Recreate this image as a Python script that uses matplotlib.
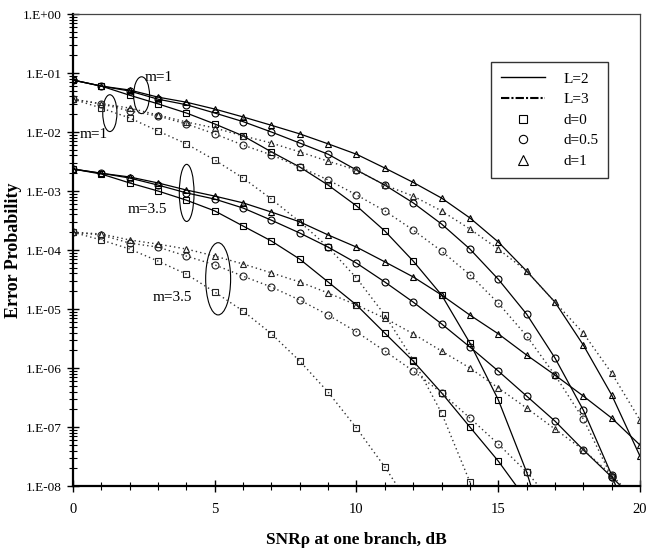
import matplotlib
matplotlib.use("Agg")
import matplotlib.pyplot as plt
import numpy as np
from matplotlib.lines import Line2D
from matplotlib.patches import Ellipse
from matplotlib.ticker import FixedLocator, FuncFormatter, LogLocator, NullFormatter

# m=1, L=2 (solid)
m1_L2_d1 = [7.6e-2, 6.0e-2, 5.15e-2, 3.9e-2, 3.2e-2, 2.45e-2, 1.8e-2, 1.3e-2, 9.3e-3, 6.3e-3, 4.2e-3,
            2.45e-3, 1.4e-3, 7.6e-4, 3.5e-4, 1.37e-4, 4.4e-5, 1.31e-5, 2.45e-6, 3.5e-7, 3.2e-8]
m1_L2_d05 = [7.6e-2, 6.0e-2, 4.95e-2, 3.6e-2, 2.9e-2, 2.1e-2, 1.5e-2, 1.0e-2, 6.5e-3, 4.2e-3, 2.27e-3,
             1.26e-3, 6.3e-4, 2.76e-4, 1.04e-4, 3.2e-5, 8.2e-6, 1.48e-6, 1.94e-7, 1.54e-8, 8.0e-10]
m1_L2_d0 = [7.6e-2, 6.0e-2, 4.2e-2, 3.0e-2, 2.1e-2, 1.37e-2, 8.6e-3, 4.6e-3, 2.55e-3, 1.26e-3, 5.6e-4,
            2.1e-4, 6.5e-5, 1.73e-5, 2.65e-6, 2.9e-7, 1.73e-8, 5.0e-10]
# m=1, L=3 (dotted)
m1_L3_d1 = [3.6e-2, 3.0e-2, 2.55e-2, 1.94e-2, 1.48e-2, 1.17e-2, 8.6e-3, 6.5e-3, 4.6e-3, 3.2e-3, 2.27e-3,
            1.26e-3, 8.2e-4, 4.6e-4, 2.27e-4, 1.04e-4, 4.4e-5, 1.31e-5, 3.9e-6, 8.2e-7, 1.31e-7]
m1_L3_d05 = [3.6e-2, 3.0e-2, 2.27e-2, 1.87e-2, 1.37e-2, 9.3e-3, 6.0e-3, 4.1e-3, 2.55e-3, 1.54e-3, 8.6e-4,
             4.6e-4, 2.18e-4, 9.6e-5, 3.8e-5, 1.26e-5, 3.5e-6, 7.6e-7, 1.37e-7, 1.42e-8, 1.0e-9]
m1_L3_d0 = [3.6e-2, 2.55e-2, 1.73e-2, 1.04e-2, 6.3e-3, 3.35e-3, 1.66e-3, 7.3e-4, 3.0e-4, 1.12e-4, 3.35e-5,
            7.9e-6, 1.37e-6, 1.73e-7, 1.17e-8, 4.0e-10]
# m=3.5, L=2 (solid)
m35_L2_d1 = [2.36e-3, 2.0e-3, 1.73e-3, 1.37e-3, 1.04e-3, 8.2e-4, 6.3e-4, 4.4e-4, 3.0e-4, 1.8e-4, 1.12e-4,
             6.3e-5, 3.5e-5, 1.73e-5, 7.9e-6, 3.8e-6, 1.66e-6, 7.6e-7, 3.35e-7, 1.42e-7, 4.95e-8]
m35_L2_d05 = [2.36e-3, 2.0e-3, 1.66e-3, 1.26e-3, 9.3e-4, 7.3e-4, 5.15e-4, 3.2e-4, 1.94e-4, 1.12e-4, 6.0e-5,
              2.87e-5, 1.31e-5, 5.6e-6, 2.27e-6, 8.9e-7, 3.35e-7, 1.26e-7, 4.1e-8, 1.42e-8, 4.8e-9]
m35_L2_d0 = [2.36e-3, 1.94e-3, 1.37e-3, 1.0e-3, 7.0e-4, 4.6e-4, 2.55e-4, 1.42e-4, 7.0e-5, 2.87e-5, 1.17e-5,
             3.9e-6, 1.31e-6, 3.8e-7, 1.0e-7, 2.65e-8, 5.8e-9]
# m=3.5, L=3 (dotted)
m35_L3_d1 = [2.0e-4, 1.87e-4, 1.48e-4, 1.26e-4, 1.04e-4, 7.9e-5, 5.8e-5, 4.1e-5, 2.87e-5, 1.87e-5, 1.17e-5,
             7.0e-6, 3.8e-6, 1.94e-6, 1.0e-6, 4.6e-7, 2.1e-7, 9.25e-8, 4.1e-8, 1.54e-8, 4.8e-9]
m35_L3_d05 = [2.0e-4, 1.8e-4, 1.31e-4, 1.12e-4, 7.9e-5, 5.6e-5, 3.6e-5, 2.36e-5, 1.42e-5, 7.9e-6, 4.1e-6,
              1.94e-6, 8.9e-7, 3.8e-7, 1.42e-7, 5.15e-8, 1.73e-8, 4.8e-9]
m35_L3_d0 = [2.0e-4, 1.48e-4, 1.04e-4, 6.5e-5, 3.9e-5, 1.94e-5, 9.25e-6, 3.8e-6, 1.31e-6, 3.9e-7, 9.6e-8,
             2.1e-8, 3.9e-9]

curves = [
    (m1_L2_d1, "-", "^"), (m1_L2_d05, "-", "o"), (m1_L2_d0, "-", "s"),
    (m1_L3_d1, ":", "^"), (m1_L3_d05, ":", "o"), (m1_L3_d0, ":", "s"),
    (m35_L2_d1, "-", "^"), (m35_L2_d05, "-", "o"), (m35_L2_d0, "-", "s"),
    (m35_L3_d1, ":", "^"), (m35_L3_d05, ":", "o"), (m35_L3_d0, ":", "s"),
]

plt.rcParams["font.family"] = ["Liberation Serif", "DejaVu Serif"]

fig = plt.figure(figsize=(6.47, 5.54), dpi=100)
ax = fig.add_axes([0.1128, 0.1227, 0.8764, 0.852])

for vals, ls, mk in curves:
    x = np.arange(len(vals))
    if ls == "-":
        ax.plot(x, vals, color="black", lw=0.9, ls="-", marker=mk, ms=5,
                mfc="none", mec="black", mew=0.8)
    else:
        ax.plot(x, vals, color="#333333", lw=1.0, ls=(0, (1, 2.2)), marker=mk, ms=5,
                mfc="none", mec="#222222", mew=0.8)

ax.set_yscale("log")
ax.set_xlim(0, 20)
ax.set_ylim(1e-8, 1)

ax.xaxis.set_major_locator(FixedLocator([0, 5, 10, 15, 20]))
ax.xaxis.set_minor_locator(FixedLocator(range(21)))
ax.yaxis.set_major_locator(LogLocator(base=10, numticks=20))
ax.yaxis.set_minor_locator(LogLocator(base=10, subs=np.arange(2, 10), numticks=20))
ax.yaxis.set_minor_formatter(NullFormatter())
ax.yaxis.set_major_formatter(FuncFormatter(lambda v, p: f"1.E{int(round(np.log10(v))):+03d}"))

ax.tick_params(axis="both", which="major", direction="inout", length=9, width=1.0,
               labelsize=9.5, top=False, right=False)
ax.tick_params(axis="x", labelsize=10.5, pad=8)
ax.tick_params(axis="both", which="minor", direction="inout", length=6, width=0.8,
               top=False, right=False)

for side in ["left", "bottom"]:
    ax.spines[side].set_linewidth(1.6)
for side in ["top", "right"]:
    ax.spines[side].set_linewidth(0.9)
    ax.spines[side].set_color("#444444")

ax.set_xlabel("SNR\u03c1 at one branch, dB", fontsize=12.5, fontweight="bold", labelpad=11)
ax.set_ylabel("Error Probability", fontsize=13, fontweight="bold")
ax.yaxis.set_label_coords(-0.09, 0.5)

# annotations: group labels with ellipses
ax.text(2.54, 10 ** -1.07, "m=1", fontsize=11, ha="left", va="center")
ax.text(0.25, 10 ** -2.05, "m=1", fontsize=11, ha="left", va="center")
ax.text(1.94, 10 ** -3.32, "m=3.5", fontsize=11, ha="left", va="center")
ax.text(2.82, 10 ** -4.81, "m=3.5", fontsize=11, ha="left", va="center")
for cx, cy, w, h in [(0.121, 0.828, 0.028, 0.078), (0.065, 0.790, 0.025, 0.078),
                     (0.2005, 0.621, 0.026, 0.121), (0.256, 0.439, 0.044, 0.153)]:
    ax.add_patch(Ellipse((cx, cy), w, h, transform=ax.transAxes, fill=False,
                         lw=0.8, ec="black"))

handles = [
    Line2D([], [], color="black", lw=1.0),
    Line2D([], [], color="black", lw=1.5, ls=(0, (4, 1, 1, 1))),
    Line2D([], [], ls="none", marker="s", ms=6, mfc="none", mec="black", mew=0.8),
    Line2D([], [], ls="none", marker="o", ms=6, mfc="none", mec="black", mew=0.8),
    Line2D([], [], ls="none", marker="^", ms=7, mfc="none", mec="black", mew=0.8),
]
labels = ["L=2", "L=3", "d=0", "d=0.5", "d=1"]
leg = ax.legend(handles, labels, loc="upper right", bbox_to_anchor=(0.944, 0.898),
                borderaxespad=0, fontsize=11, frameon=True, fancybox=False,
                handlelength=2.9, handletextpad=1.2, borderpad=0.65, labelspacing=0.45)
leg.get_frame().set_edgecolor("black")
leg.get_frame().set_linewidth(1.0)

fig.savefig("out.png", dpi=100)
